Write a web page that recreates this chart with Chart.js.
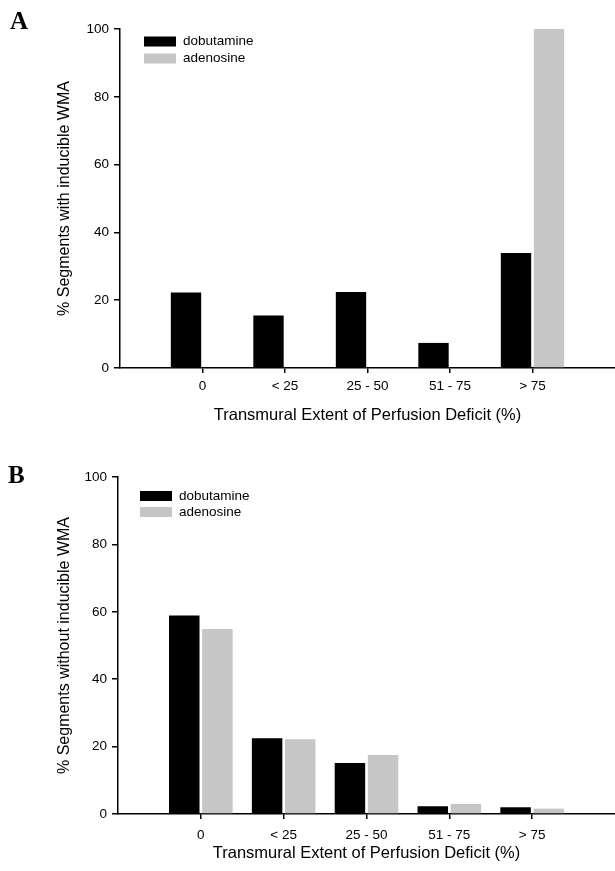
<!DOCTYPE html>
<html>
<head>
<meta charset="utf-8">
<script src="https://cdn.jsdelivr.net/npm/chart.js@4"></script>
<style>
body { margin: 0; background: #fff; }
.panel { position: absolute; left: 0; width: 615px; }
</style>
</head>
<body>
<div class="panel" style="top:0;height:430px"><canvas id="chartA"></canvas></div>
<div class="panel" style="top:430px;height:441px"><canvas id="chartB"></canvas></div>
<script>
// categories on the x axis
var categories = ['0', '< 25', '25 - 50', '51 - 75', '> 75'];
var seriesNames = ['dobutamine', 'adenosine'];
var yTicks = [0, 20, 40, 60, 80, 100];

// panel A : % segments with inducible WMA
var dobutamineA = [22.3, 15.5, 22.4, 7.4, 33.9];
var adenosineA = [0, 0, 0, 0, 100];

// panel B : % segments without inducible WMA
var dobutamineB = [58.9, 22.5, 15.1, 2.3, 2.0];
var adenosineB = [54.9, 22.2, 17.5, 3.0, 1.6];

var SANS = '"Liberation Sans", Arial, Helvetica, sans-serif';
var BLACK = '#000000';
var GREY = '#c6c6c6';

//Draws panel letter and legend box
var panelDecor = {
  id: 'panelDecor',
  afterDraw: function(chart) {
    var o = chart.options.plugins.panelDecor;
    var ctx = chart.ctx;
    ctx.save();
    ctx.fillStyle = '#000';
    ctx.font = 'bold 25px "Liberation Serif", "Times New Roman", serif';
    ctx.textBaseline = 'alphabetic';
    ctx.textAlign = 'left';
    ctx.fillText(o.letter, o.letterX, o.letterY);
    ctx.font = '13.5px ' + SANS;
    ctx.textBaseline = 'middle';
    chart.data.datasets.forEach(function(ds, i) {
      var y = o.legendY + i * o.legendStep;
      ctx.fillStyle = ds.backgroundColor;
      ctx.fillRect(o.legendX, y - 5, 32, 10);
      ctx.fillStyle = '#000';
      ctx.fillText(ds.label, o.legendX + 39, y);
    });
    ctx.restore();
  }
};

function toPoints(values) {
  return values.map(function(v, i) { return { x: i, y: v }; });
}

function makeChart(id, dob, ade, yTitle, lay) {
  var ctx = document.getElementById(id);
  return new Chart(ctx, {
    type: 'bar',
    data: {
      datasets: [
        { label: seriesNames[0], data: toPoints(dob), backgroundColor: BLACK,
          categoryPercentage: 0.8, barPercentage: 0.92, borderWidth: 0 },
        { label: seriesNames[1], data: toPoints(ade), backgroundColor: GREY,
          categoryPercentage: 0.8, barPercentage: 0.92, borderWidth: 0 }
      ]
    },
    options: {
      responsive: true,
      maintainAspectRatio: false,
      animation: false,
      layout: { padding: { top: lay.top, left: 0, right: 0, bottom: 0 } },
      plugins: {
        legend: { display: false },
        tooltip: { enabled: false },
        panelDecor: lay.decor
      },
      scales: {
        x: {
          type: 'linear',
          min: -1,
          max: 5,
          offset: false,
          grid: { display: true, offset: false, drawOnChartArea: false, drawTicks: true, tickLength: 5, color: '#000', lineWidth: 1.5 },
          border: { display: true, color: '#000', width: 1.5 },
          ticks: {
            color: '#000',
            font: { family: SANS, size: 13.5 },
            padding: lay.tickPad,
            maxRotation: 0,
            autoSkip: false,
            callback: function(v) { return categories[v]; }
          },
          afterBuildTicks: function(s) {
            s.ticks = categories.map(function(c, i) { return { value: i }; });
          },
          afterFit: function(s) {
            s.height = lay.xHeight;
            s.paddingLeft = 0;
            s.paddingRight = 0;
          },
          title: {
            display: true,
            text: 'Transmural Extent of Perfusion Deficit (%)',
            color: '#000',
            font: { family: SANS, size: 16.5 },
            padding: { top: 0, bottom: lay.titlePad }
          }
        },
        y: {
          min: 0,
          max: 100,
          grid: { display: true, drawOnChartArea: false, drawTicks: true, tickLength: 6, color: '#000', lineWidth: 1.5 },
          border: { display: true, color: '#000', width: 1.5 },
          ticks: {
            color: '#000',
            font: { family: SANS, size: 13.5 },
            padding: 5
          },
          afterBuildTicks: function(s) {
            s.ticks = yTicks.map(function(v) { return { value: v }; });
          },
          afterFit: function(s) {
            s.width = lay.yWidth;
            s.paddingTop = 0;
            s.paddingBottom = 0;
          },
          title: {
            display: true,
            text: yTitle,
            color: '#000',
            font: { family: SANS, size: 16 },
            padding: { top: 55, bottom: 0 }
          }
        }
      }
    },
    plugins: [panelDecor]
  });
}

makeChart('chartA', dobutamineA, adenosineA, '% Segments with inducible WMA', {
  top: 29, xHeight: 62, titlePad: 5, tickPad: 5.5, yWidth: 120,
  decor: { letter: 'A', letterX: 10, letterY: 29, legendX: 144, legendY: 41.5, legendStep: 17 }
});

makeChart('chartB', dobutamineB, adenosineB, '% Segments without inducible WMA', {
  top: 47, xHeight: 57, titlePad: 8, tickPad: 8, yWidth: 118,
  decor: { letter: 'B', letterX: 8, letterY: 53, legendX: 140, legendY: 66, legendStep: 16 }
});
</script>
</body>
</html>
